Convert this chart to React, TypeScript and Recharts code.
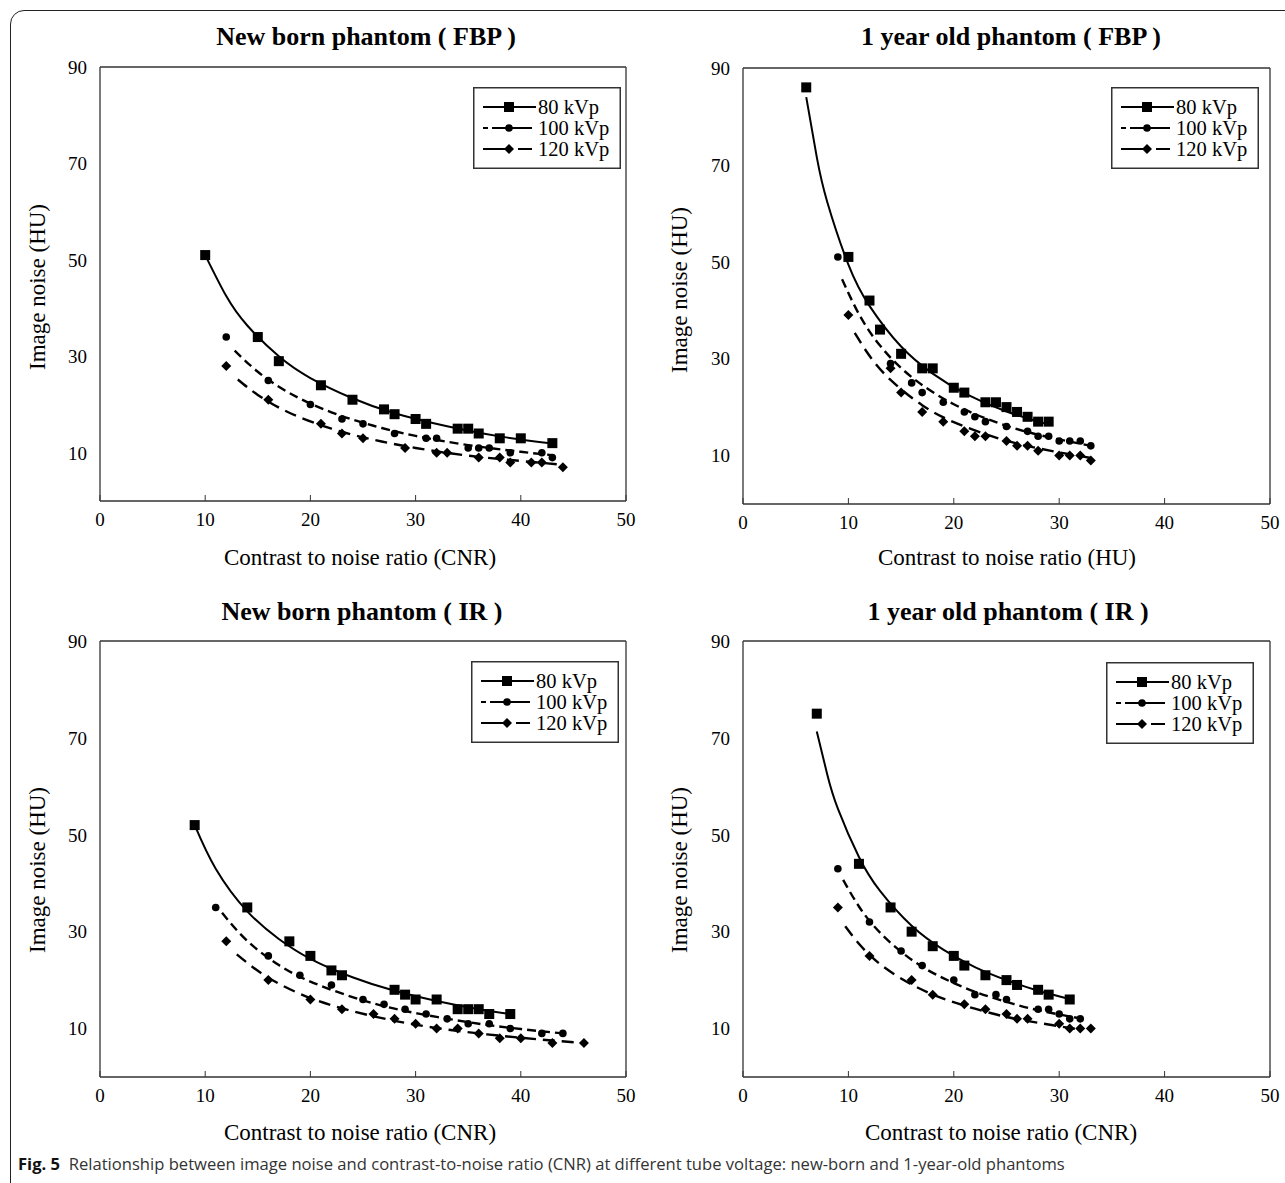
import React from 'react';
import { ComposedChart, Line, Scatter, XAxis, YAxis } from 'recharts';

// ---------- data (x = CNR, y = image noise) ----------
const xTicks = [0, 10, 20, 30, 40, 50];
const yTicks = [10, 30, 50, 70, 90];
const seriesNames = ['80 kVp', '100 kVp', '120 kVp'];

// New born phantom (FBP)
const nbFbp80 = [[10,51],[15,34],[17,29],[21,24],[24,21],[27,19],[28,18],[30,17],[31,16],[34,15],[35,15],[36,14],[38,13],[40,13],[43,12]];
const nbFbp100 = [[12,34],[16,25],[20,20],[23,17],[25,16],[28,14],[31,13],[32,13],[35,11],[36,11],[37,11],[39,10],[42,10],[43,9]];
const nbFbp120 = [[12,28],[16,21],[21,16],[23,14],[25,13],[29,11],[32,10],[33,10],[36,9],[38,9],[39,8],[41,8],[42,8],[44,7]];
const nbFbp80Fit = [[10,51],[12,42.5],[14,36.4],[17,30],[20,25.5],[24,21.3],[28,18.2],[33,15.5],[38,13.4],[43,11.9]];
const nbFbp100Fit = [[12.8,31.2],[15,26.8],[18,22.4],[22,18.4],[26,15.6],[30,13.5],[35,11.6],[40,10.2],[43,9.5]];
const nbFbp120Fit = [[13.1,25.2],[15,22],[18,18.3],[22,15],[26,12.7],[30,11],[35,9.4],[40,8.3],[44,7.5]];

// 1 year old phantom (FBP)
const y1Fbp80 = [[6,86],[10,51],[12,42],[13,36],[15,31],[17,28],[18,28],[20,24],[21,23],[23,21],[24,21],[25,20],[26,19],[27,18],[28,17],[29,17]];
const y1Fbp100 = [[9,51],[14,29],[16,25],[17,23],[19,21],[21,19],[22,18],[23,17],[25,16],[27,15],[28,14],[29,14],[30,13],[31,13],[32,13],[33,12]];
const y1Fbp120 = [[10,39],[14,28],[15,23],[17,19],[19,17],[21,15],[22,14],[23,14],[25,13],[26,12],[27,12],[28,11],[30,10],[31,10],[32,10],[33,9]];
const y1Fbp80Fit = [[6,84],[7,71.6],[8,62.3],[10,49.4],[12,40.9],[15,32.5],[18,26.9],[21,22.9],[25,19.1],[29,16.4]];
const y1Fbp100Fit = [[9.4,46.4],[11,39.2],[13,32.7],[16,26.2],[20,20.6],[24,16.9],[28,14.3],[33,12]];
const y1Fbp120Fit = [[10.6,35.3],[12,30.6],[14,25.6],[17,20.4],[20,16.9],[24,13.7],[28,11.5],[33,9.5]];

// New born phantom (IR)
const nbIr80 = [[9,52],[14,35],[18,28],[20,25],[22,22],[23,21],[28,18],[29,17],[30,16],[32,16],[34,14],[35,14],[36,14],[37,13],[39,13]];
const nbIr100 = [[11,35],[16,25],[19,21],[22,19],[25,16],[27,15],[29,14],[31,13],[33,12],[35,11],[37,11],[39,10],[42,9],[44,9]];
const nbIr120 = [[12,28],[16,20],[20,16],[23,14],[26,13],[28,12],[30,11],[32,10],[34,10],[36,9],[38,8],[40,8],[43,7],[46,7]];
const nbIr80Fit = [[9,52],[11,43],[14,34.2],[17,28.5],[20,24.4],[24,20.6],[28,17.8],[32,15.7],[36,14],[39,13]];
const nbIr100Fit = [[11.6,33.9],[14,28.1],[17,23.1],[20,19.7],[24,16.5],[28,14.1],[32,12.4],[36,11],[40,9.9],[44,9]];
const nbIr120Fit = [[13,25.3],[16,20.5],[20,16.3],[24,13.6],[28,11.6],[32,10.1],[36,9],[40,8.1],[46,7]];

// 1 year old phantom (IR)
const y1Ir80 = [[7,75],[11,44],[14,35],[16,30],[18,27],[20,25],[21,23],[23,21],[25,20],[26,19],[28,18],[29,17],[31,16]];
const y1Ir100 = [[9,43],[12,32],[15,26],[17,23],[20,20],[22,17],[24,17],[25,16],[28,14],[29,14],[30,13],[31,12],[32,12]];
const y1Ir120 = [[9,35],[12,25],[16,20],[18,17],[21,15],[23,14],[25,13],[26,12],[27,12],[30,11],[31,10],[32,10],[33,10]];
const y1Ir80Fit = [[7,71.3],[8,62.4],[9,55.4],[11,45.4],[13,38.4],[16,31.2],[19,26.3],[22,22.7],[25,20],[28,17.8],[31,16.1]];
const y1Ir100Fit = [[9.5,40.7],[11,35.2],[13,29.8],[16,24.2],[19,20.4],[22,17.6],[25,15.5],[28,13.8],[32,12.1]];
const y1Ir120Fit = [[9.7,31.1],[11,27.5],[13,23.3],[16,19.1],[19,16.2],[22,14.1],[25,12.4],[28,11.2],[31.5,9.95]];

const pts = (a: number[][]) => a.map(([x, y]) => ({ x, y }));

// ---------- styling ----------
const SERIF = '"Liberation Serif", "Times New Roman", serif';
const DASH100 = '9 5';
const DASH120 = '12 7';
const AXIS = '#333';

const SquareShape = (p: any) => <rect x={p.cx - 5} y={p.cy - 5} width={10} height={10} fill="#000" />;
const CircleShape = (p: any) => <circle cx={p.cx} cy={p.cy} r={3.8} fill="#000" />;
const DiamondShape = (p: any) => (
  <polygon points={`${p.cx},${p.cy - 5} ${p.cx + 5},${p.cy} ${p.cx},${p.cy + 5} ${p.cx - 5},${p.cy}`} fill="#000" />
);

const LegendBox = ({ left, top }: { left: number; top: number }) => {
  const W = 148, H = 82;
  const rows = [
    { name: seriesNames[0], dash: undefined, mk: 'sq' },
    { name: seriesNames[1], dash: '5 4 40', mk: 'ci' },
    { name: seriesNames[2], dash: '28 7 14', mk: 'di' },
  ];
  return (
    <svg width={W} height={H} style={{ position: 'absolute', left, top, overflow: 'visible' }}>
      <rect x={0.75} y={0.75} width={W - 1.5} height={H - 1.5} fill="#fff" stroke="#333" strokeWidth={1.5} />
      {rows.map((r, i) => {
        const cy = 20 + i * 21;
        const cx = 36;
        return (
          <g key={r.name}>
            <line x1={10} x2={63} y1={cy} y2={cy} stroke="#000" strokeWidth={2} strokeDasharray={r.dash} />
            {r.mk === 'sq' && <SquareShape cx={cx} cy={cy} />}
            {r.mk === 'ci' && <CircleShape cx={cx} cy={cy} />}
            {r.mk === 'di' && <DiamondShape cx={cx} cy={cy} />}
            <text x={65} y={cy} dy="0.35em" fontFamily={SERIF} fontSize={20.5} fill="#000">{r.name}</text>
          </g>
        );
      })}
    </svg>
  );
};

type PanelProps = {
  px: number; py: number; pw: number; ph: number;
  title: string; titleX: number; titleY: number;
  xLabel: string; xLabelX: number; xLabelY: number;
  yLabelX: number; yLabelY: number;
  legendLeft: number; legendTop: number;
  s80: number[][]; s100: number[][]; s120: number[][];
  f80: number[][]; f100: number[][]; f120: number[][];
};

const Panel = (p: PanelProps) => {
  const YW = 40;
  const MT = 15, MR = 15;
  const chartLeft = p.px - YW;
  const chartTop = p.py - 1 - MT;
  const W = p.pw + YW + 1 + MR;
  const H = p.ph + 1 + 40 + MT;
  const tickStyle = { fontFamily: SERIF, fontSize: 19, fill: '#000' };
  return (
    <>
      <div style={{ position: 'absolute', left: p.titleX, top: p.titleY, transform: 'translate(-50%,-50%)', whiteSpace: 'nowrap', fontFamily: SERIF, fontWeight: 'bold', fontSize: 26, color: '#000' }}>{p.title}</div>
      <div style={{ position: 'absolute', left: p.xLabelX, top: p.xLabelY, transform: 'translate(-50%,-50%)', whiteSpace: 'nowrap', fontFamily: SERIF, fontSize: 23, color: '#000' }}>{p.xLabel}</div>
      <div style={{ position: 'absolute', left: p.yLabelX, top: p.yLabelY, transform: 'translate(-50%,-50%) rotate(-90deg)', whiteSpace: 'nowrap', fontFamily: SERIF, fontSize: 23, color: '#000' }}>Image noise (HU)</div>
      <div style={{ position: 'absolute', left: chartLeft, top: chartTop }}>
        <ComposedChart width={W} height={H} margin={{ top: MT, right: MR, bottom: 0, left: 0 }}>
          <XAxis xAxisId="b" type="number" dataKey="x" domain={[0, 50]} ticks={xTicks} interval={0} allowDataOverflow
            height={40} tickSize={-6} tickMargin={18} tick={tickStyle}
            axisLine={{ stroke: AXIS, strokeWidth: 1.3 }} tickLine={{ stroke: AXIS, strokeWidth: 1 }} />
          <XAxis xAxisId="t" orientation="top" type="number" dataKey="x" domain={[0, 50]} ticks={xTicks} interval={0}
            height={1} tickSize={-6} tickFormatter={() => ''}
            axisLine={{ stroke: AXIS, strokeWidth: 1.3 }} tickLine={{ stroke: AXIS, strokeWidth: 1 }} />
          <YAxis yAxisId="l" type="number" dataKey="y" domain={[0, 90]} ticks={yTicks} interval={0} allowDataOverflow
            width={YW} tickSize={0} tickMargin={13} tick={tickStyle} tickLine={false}
            axisLine={{ stroke: AXIS, strokeWidth: 1.3 }} />
          <YAxis yAxisId="r" orientation="right" type="number" domain={[0, 90]} width={1}
            tick={false} tickLine={false} axisLine={{ stroke: AXIS, strokeWidth: 1.3 }} />
          <Line xAxisId="b" yAxisId="l" data={pts(p.f80)} dataKey="y" type="natural" stroke="#000" strokeWidth={2} dot={false} isAnimationActive={false} />
          <Line xAxisId="b" yAxisId="l" data={pts(p.f100)} dataKey="y" type="natural" stroke="#000" strokeWidth={2.4} strokeDasharray={DASH100} dot={false} isAnimationActive={false} />
          <Line xAxisId="b" yAxisId="l" data={pts(p.f120)} dataKey="y" type="natural" stroke="#000" strokeWidth={2.4} strokeDasharray={DASH120} dot={false} isAnimationActive={false} />
          <Scatter xAxisId="b" yAxisId="l" name={seriesNames[0]} data={pts(p.s80)} dataKey="y" shape={SquareShape} isAnimationActive={false} />
          <Scatter xAxisId="b" yAxisId="l" name={seriesNames[1]} data={pts(p.s100)} dataKey="y" shape={CircleShape} isAnimationActive={false} />
          <Scatter xAxisId="b" yAxisId="l" name={seriesNames[2]} data={pts(p.s120)} dataKey="y" shape={DiamondShape} isAnimationActive={false} />
        </ComposedChart>
      </div>
      <LegendBox left={p.legendLeft} top={p.legendTop} />
    </>
  );
};

export default function App() {
  return (
    <div style={{ position: 'absolute', left: 0, top: 0, width: 1285, height: 1183, overflow: 'hidden', background: '#fff' }}>
      <div style={{ position: 'absolute', left: 10, top: 10, width: 1300, height: 1185, border: '1.3px solid #222', borderRadius: 14 }} />
      <Panel px={100} py={67} pw={526} ph={434}
        title="New born phantom ( FBP )" titleX={366} titleY={37}
        xLabel="Contrast to noise ratio (CNR)" xLabelX={360} xLabelY={558}
        yLabelX={38} yLabelY={287} legendLeft={473} legendTop={87}
        s80={nbFbp80} s100={nbFbp100} s120={nbFbp120} f80={nbFbp80Fit} f100={nbFbp100Fit} f120={nbFbp120Fit} />
      <Panel px={743} py={68} pw={527} ph={436}
        title="1 year old phantom ( FBP )" titleX={1011} titleY={37}
        xLabel="Contrast to noise ratio (HU)" xLabelX={1007} xLabelY={558}
        yLabelX={680} yLabelY={290} legendLeft={1111} legendTop={87}
        s80={y1Fbp80} s100={y1Fbp100} s120={y1Fbp120} f80={y1Fbp80Fit} f100={y1Fbp100Fit} f120={y1Fbp120Fit} />
      <Panel px={100} py={641} pw={526} ph={436}
        title="New born phantom ( IR )" titleX={362} titleY={612}
        xLabel="Contrast to noise ratio (CNR)" xLabelX={360} xLabelY={1133}
        yLabelX={38} yLabelY={870} legendLeft={471} legendTop={661}
        s80={nbIr80} s100={nbIr100} s120={nbIr120} f80={nbIr80Fit} f100={nbIr100Fit} f120={nbIr120Fit} />
      <Panel px={743} py={641} pw={527} ph={436}
        title="1 year old phantom ( IR )" titleX={1008} titleY={612}
        xLabel="Contrast to noise ratio (CNR)" xLabelX={1001} xLabelY={1133}
        yLabelX={680} yLabelY={870} legendLeft={1106} legendTop={662}
        s80={y1Ir80} s100={y1Ir100} s120={y1Ir120} f80={y1Ir80Fit} f100={y1Ir100Fit} f120={y1Ir120Fit} />
      <div style={{ position: 'absolute', left: 18, top: 1152, whiteSpace: 'nowrap', fontFamily: '"Open Sans", "Noto Sans", sans-serif', fontSize: 16.6, color: '#333' }}>
        <b style={{ color: '#111' }}>Fig. 5</b>&nbsp;&nbsp;Relationship between image noise and contrast-to-noise ratio (CNR) at different tube voltage: new-born and 1-year-old phantoms
      </div>
    </div>
  );
}
